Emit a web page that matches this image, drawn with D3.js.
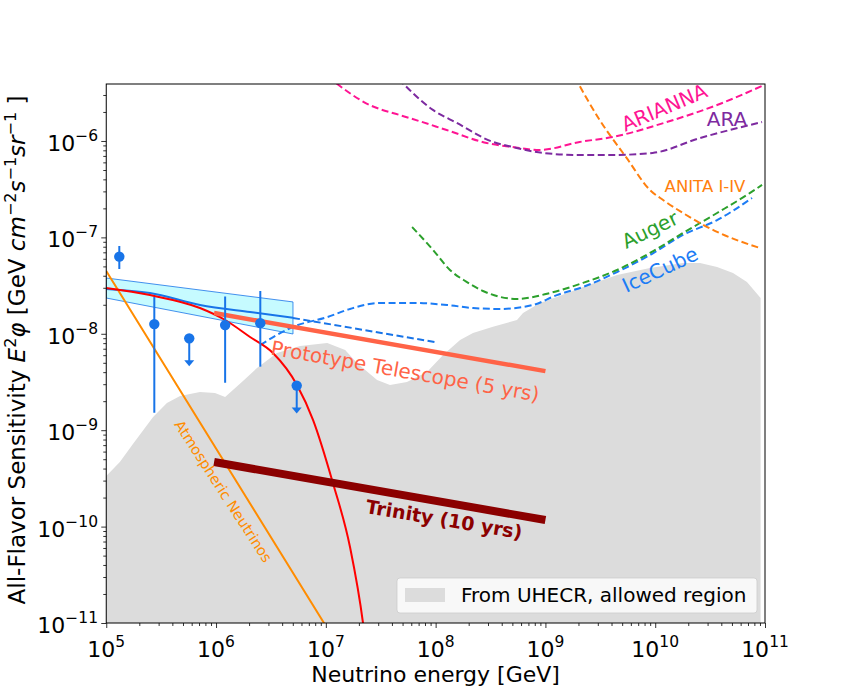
<!DOCTYPE html>
<html>
<head>
<meta charset="utf-8">
<script src="https://cdn.jsdelivr.net/npm/d3@7"></script>
<style>
  body { margin: 0; background: #fff; }
  svg { font-family: "DejaVu Sans", sans-serif; }
</style>
</head>
<body>
<div id="chart"></div>
<script>
// ---- data: [energy GeV, E^2 flux] ----
const uhecrRegion = [
  [1e5, 3.35e-10], [1.33e5, 4.68e-10], [1.75e5, 7.19e-10], [2.67e5, 1.37e-9],
  [3.57e5, 1.91e-9], [4.70e5, 2.26e-9], [7.14e5, 2.49e-9], [9.78e5, 2.43e-9],
  [1.21e6, 2.21e-9], [1.76e6, 3.24e-9], [2.36e6, 4.42e-9], [3.59e6, 6.32e-9],
  [5.82e6, 7.47e-9], [1.03e7, 8.03e-9], [1.50e7, 6.80e-9], [1.92e7, 4.98e-9],
  [2.93e7, 3.32e-9], [3.84e7, 2.94e-9], [5.48e7, 3.16e-9], [8.34e7, 4.02e-9],
  [1.17e8, 6.03e-9], [1.67e8, 8.63e-9], [2.19e8, 1.02e-8], [3.33e8, 1.18e-8],
  [5.51e8, 1.39e-8], [6.25e8, 1.64e-8], [8.91e8, 2.09e-8], [1.27e9, 2.41e-8],
  [2.20e9, 3.06e-8], [4.49e9, 4.07e-8], [8.96e9, 4.82e-8], [1.79e10, 5.42e-8],
  [2.56e10, 5.42e-8], [3.66e10, 4.93e-8], [5.11e10, 4.28e-8], [6.85e10, 3.44e-8],
  [9.12e10, 2.35e-8]
];
const uhecrFloor = 1e-12;

const cutoffModel = [
  [1e5, 2.99e-8], [2.5e5, 2.52e-8], [7.14e5, 1.85e-8], [1.21e6, 1.39e-8],
  [2.04e6, 9.27e-9], [3.30e6, 6.32e-9], [5.46e6, 2.94e-9], [7.64e6, 1.28e-9],
  [1.16e7, 2.83e-10], [1.66e7, 6.14e-11], [2.18e7, 1e-11], [2.4e7, 4e-12]
];

const atmospheric = [[1e5, 4.48e-8], [9.62e6, 1e-11], [1.2e7, 6.7e-12]];

const bandTop = [[1e5, 3.79e-8], [5.02e6, 2.14e-8]];
const bandBottom = [[1e5, 2.35e-8], [5.02e6, 9.95e-9]];
const bandFit = [[1e5, 2.92e-8], [2.5e5, 2.65e-8], [7.14e5, 1.99e-8], [2.04e6, 1.68e-8], [5.02e6, 1.47e-8]];
const bandFitExt = [[5.02e6, 1.46e-8], [9.84e7, 8.22e-9]];

const pointE = [1.315e5, 2.74e5, 1.21e6, 2.53e6];
const pointFlux = [6.31e-8, 1.26e-8, 1.23e-8, 1.29e-8];
const pointHi = [8.15e-8, 2.41e-8, 2.43e-8, 2.78e-8];
const pointLo = [4.70e-8, 1.52e-9, 3.11e-9, 4.56e-9];
const limitE = [5.70e5, 5.43e6];
const limitFlux = [8.97e-9, 2.90e-9];

const icecube = [
  [2.53e6, 7.65e-9], [5.02e6, 1.18e-8], [1.03e7, 1.49e-8], [1.66e7, 1.81e-8],
  [3.11e7, 2.09e-8], [6.22e7, 2.09e-8], [1.27e8, 1.99e-8], [2.19e8, 1.85e-8],
  [3.85e8, 1.81e-8], [7.70e8, 1.99e-8], [1.27e9, 2.52e-8], [2.20e9, 3.06e-8],
  [4.49e9, 4.37e-8], [8.96e9, 6.56e-8], [1.79e10, 1.06e-7], [3.66e10, 1.51e-7],
  [7.62e10, 2.56e-7]
];
const auger = [
  [6.11e7, 1.28e-7], [9.48e7, 7.40e-8], [1.35e8, 4.59e-8], [1.93e8, 3.44e-8],
  [2.70e8, 2.78e-8], [5.51e8, 2.30e-8], [1.10e9, 2.65e-8], [2.20e9, 3.37e-8],
  [4.49e9, 4.59e-8], [8.96e9, 6.89e-8], [1.79e10, 1.11e-7], [3.66e10, 1.79e-7],
  [7.31e10, 2.89e-7], [9.40e10, 3.50e-7]
];
const anita = [
  [1.85e9, 4.6e-6], [3.12e9, 1.65e-6], [5.49e9, 6.67e-7], [8.96e9, 3.10e-7],
  [1.18e10, 2.44e-7], [1.79e10, 1.79e-7], [3.66e10, 1.14e-7], [9.00e10, 7.76e-8]
];
const arianna = [
  [1.05e7, 4.6e-6], [2.51e7, 2.36e-6], [4.70e7, 1.86e-6], [6.18e7, 1.69e-6],
  [1.26e8, 1.30e-6], [2.92e8, 9.53e-7], [5.04e8, 8.66e-7], [8.87e8, 8.07e-7],
  [2.05e9, 9.77e-7], [4.10e9, 1.10e-6], [1.27e10, 1.57e-6], [3.66e10, 2.36e-6],
  [9.40e10, 3.72e-6]
];
const ara = [
  [4.6e7, 4.4e-6], [9.44e7, 2.10e-6], [1.56e8, 1.54e-6], [3.33e8, 9.77e-7],
  [5.04e8, 8.66e-7], [9.46e8, 7.51e-7], [2.05e9, 7.16e-7], [4.10e9, 7.16e-7],
  [9.48e9, 7.51e-7], [2.54e10, 1.07e-6], [9.40e10, 1.57e-6]
];

const prototype = [[9.6e5, 1.64e-8], [1e9, 4.1e-9]];
const trinity = [[9.6e5, 4.68e-10], [1e9, 1.17e-10]];

const xMajor = [1e5, 1e6, 1e7, 1e8, 1e9, 1e10, 1e11];
const xExp = ["5", "6", "7", "8", "9", "10", "11"];
const yMajor = [1e-11, 1e-10, 1e-9, 1e-8, 1e-7, 1e-6];
const yExp = ["−11", "−10", "−9", "−8", "−7", "−6"];

// ---- chart ----
const width = 850, height = 700;
const plotL = 106.25, plotR = 765, plotT = 84, plotB = 623;

const svg = d3.select("#chart").append("svg")
  .attr("width", width).attr("height", height)
  .attr("viewBox", `0 0 ${width} ${height}`);

const x = d3.scaleLog().domain([1e5, 1e11]).range([plotL, plotR]);
const y = d3.scaleLog().domain([1e-11, 3.9e-6]).range([plotB, plotT]);

svg.append("defs").append("clipPath").attr("id", "plot")
  .append("rect").attr("x", plotL).attr("y", plotT)
  .attr("width", plotR - plotL).attr("height", plotB - plotT);

const g = svg.append("g").attr("clip-path", "url(#plot)");
const line = d3.line().x(d => x(d[0])).y(d => y(d[1]));
const smooth = d3.line().x(d => x(d[0])).y(d => y(d[1])).curve(d3.curveMonotoneX);

// allowed region from UHECR
const area = d3.area().x(d => x(d[0])).y0(y(uhecrFloor)).y1(d => y(d[1]));
g.append("path").datum(uhecrRegion).attr("d", area).attr("fill", "#dcdcdc");

// band + fit
const bandPoly = bandTop.concat(bandBottom.slice().reverse());
g.append("path")
  .attr("d", line(bandPoly) + "Z")
  .attr("fill", "#c6fbff").attr("stroke", "#1874e8").attr("stroke-width", 0.8);
g.append("path").datum(bandFit).attr("d", smooth)
  .attr("fill", "none").attr("stroke", "#1874e8").attr("stroke-width", 2);
g.append("path").datum(bandFitExt).attr("d", line)
  .attr("fill", "none").attr("stroke", "#1874e8").attr("stroke-width", 2)
  .attr("stroke-dasharray", "7,3.5");

// experiments (dashed)
const dashed = [
  [icecube, "#1c7cf5"], [auger, "#2ca02c"], [anita, "#ff7f0e"],
  [arianna, "#ff1493"], [ara, "#7d2aa0"]
];
dashed.forEach(([data, color]) => {
  g.append("path").datum(data).attr("d", smooth)
    .attr("fill", "none").attr("stroke", color).attr("stroke-width", 2)
    .attr("stroke-dasharray", "7,3.5");
});

// atmospheric + cutoff model
g.append("path").datum(atmospheric).attr("d", line)
  .attr("fill", "none").attr("stroke", "#ff8c00").attr("stroke-width", 2);
g.append("path").datum(cutoffModel).attr("d", smooth)
  .attr("fill", "none").attr("stroke", "red").attr("stroke-width", 2);

// projected sensitivities
g.append("path").datum(prototype).attr("d", line)
  .attr("fill", "none").attr("stroke", "tomato").attr("stroke-width", 4.5);
g.append("path").datum(trinity).attr("d", line)
  .attr("fill", "none").attr("stroke", "darkred").attr("stroke-width", 8);

// data points with error bars
const pts = g.append("g").attr("fill", "#1874e8").attr("stroke", "#1874e8");
pointE.forEach((e, i) => {
  pts.append("line").attr("x1", x(e)).attr("x2", x(e))
    .attr("y1", y(pointHi[i])).attr("y2", y(pointLo[i])).attr("stroke-width", 2);
  pts.append("circle").attr("cx", x(e)).attr("cy", y(pointFlux[i])).attr("r", 5.2).attr("stroke", "none");
});
limitE.forEach((e, i) => {
  const cx = x(e), cy = y(limitFlux[i]);
  pts.append("line").attr("x1", cx).attr("x2", cx).attr("y1", cy).attr("y2", cy + 23).attr("stroke-width", 2);
  pts.append("path").attr("d", `M${cx - 5},${cy + 22}L${cx + 5},${cy + 22}L${cx},${cy + 28}Z`).attr("stroke", "none");
  pts.append("circle").attr("cx", cx).attr("cy", cy).attr("r", 5.2).attr("stroke", "none");
});

// labels
const labels = [
  ["ARIANNA", 667, 114, -23, "#ff1493", 20, "normal"],
  ["ARA", 727, 126, 0, "#7d2aa0", 20, "normal"],
  ["ANITA I-IV", 705, 192, 0, "#ff7f0e", 16.5, "normal"],
  ["Auger", 653, 236, -26, "#2ca02c", 20, "normal"],
  ["IceCube", 663, 276, -25, "#1c7cf5", 20, "normal"],
  ["Prototype Telescope (5 yrs)", 404, 378, 10, "tomato", 20, "normal"],
  ["Trinity (10 yrs)", 443, 526, 9.5, "darkred", 19, "bold"],
  ["Atmospheric Neutrinos", 219, 494, 57, "#ff8c00", 14.5, "normal"]
];
labels.forEach(([t, lx, ly, rot, color, size, weight]) => {
  svg.append("text").attr("transform", `translate(${lx},${ly}) rotate(${rot})`)
    .attr("text-anchor", "middle").attr("fill", color)
    .attr("font-size", size).attr("font-weight", weight).text(t);
});

// legend
const leg = svg.append("g");
leg.append("rect").attr("x", 397).attr("y", 578).attr("width", 360).attr("height", 35)
  .attr("rx", 3).attr("fill", "white").attr("fill-opacity", 0.8)
  .attr("stroke", "#cccccc").attr("stroke-opacity", 0.8);
leg.append("rect").attr("x", 405).attr("y", 588).attr("width", 40).attr("height", 14).attr("fill", "#dcdcdc");
leg.append("text").attr("x", 461).attr("y", 602).attr("font-size", 20).text("From UHECR, allowed region");

// axes: ticks
const xAxis = svg.append("g").attr("transform", `translate(0,${plotB})`);
xAxis.append("g").call(d3.axisBottom(x).tickValues(xMajor).tickSize(5).tickFormat(() => "").tickSizeOuter(0));
xAxis.append("g").call(d3.axisBottom(x).tickValues(x.ticks().filter(v => !xMajor.includes(v))).tickSize(3).tickFormat(() => "").tickSizeOuter(0));
xAxis.selectAll(".domain").remove();
xAxis.selectAll("line").attr("stroke", "#000").attr("stroke-width", 0.8);

const yAxis = svg.append("g").attr("transform", `translate(${plotL},0)`);
yAxis.append("g").call(d3.axisLeft(y).tickValues(yMajor).tickSize(5).tickFormat(() => "").tickSizeOuter(0));
yAxis.append("g").call(d3.axisLeft(y).tickValues(y.ticks().filter(v => !yMajor.some(m => Math.abs(m - v) / m < 1e-6))).tickSize(3).tickFormat(() => "").tickSizeOuter(0));
yAxis.selectAll(".domain").remove();
yAxis.selectAll("line").attr("stroke", "#000").attr("stroke-width", 0.8);

// tick labels
xMajor.forEach((v, i) => {
  const t = svg.append("text").attr("x", x(v)).attr("y", 657)
    .attr("text-anchor", "middle").attr("font-size", 22);
  t.append("tspan").text("10");
  t.append("tspan").attr("dy", -10).attr("font-size", 15.5).text(xExp[i]);
});
yMajor.forEach((v, i) => {
  const t = svg.append("text").attr("x", 98).attr("y", y(v) + 10)
    .attr("text-anchor", "end").attr("font-size", 22);
  t.append("tspan").text("10");
  t.append("tspan").attr("dy", -10).attr("font-size", 15.5).text(yExp[i]);
});

// frame
svg.append("rect").attr("x", plotL).attr("y", plotT)
  .attr("width", plotR - plotL).attr("height", plotB - plotT)
  .attr("fill", "none").attr("stroke", "#000").attr("stroke-width", 1);

// axis titles
svg.append("text").attr("x", (plotL + plotR) / 2).attr("y", 682)
  .attr("text-anchor", "middle").attr("font-size", 22).text("Neutrino energy [GeV]");

const yt = svg.append("text").attr("transform", `translate(25,350) rotate(-90)`)
  .attr("text-anchor", "middle").attr("font-size", 23);
yt.append("tspan").text("All-Flavor Sensitivity ");
yt.append("tspan").attr("font-style", "italic").text("E");
yt.append("tspan").attr("dy", -9).attr("font-size", 16).text("2");
yt.append("tspan").attr("dy", 9).attr("font-style", "italic").text("φ");
yt.append("tspan").text(" [GeV ");
yt.append("tspan").attr("font-style", "italic").text("cm");
yt.append("tspan").attr("dy", -9).attr("font-size", 16).text("−2");
yt.append("tspan").attr("dy", 9).attr("font-style", "italic").text("s");
yt.append("tspan").attr("dy", -9).attr("font-size", 16).text("−1");
yt.append("tspan").attr("dy", 9).attr("font-style", "italic").text("sr");
yt.append("tspan").attr("dy", -9).attr("font-size", 16).text("−1");
yt.append("tspan").attr("dy", 9).text(" ]");
</script>
</body>
</html>
